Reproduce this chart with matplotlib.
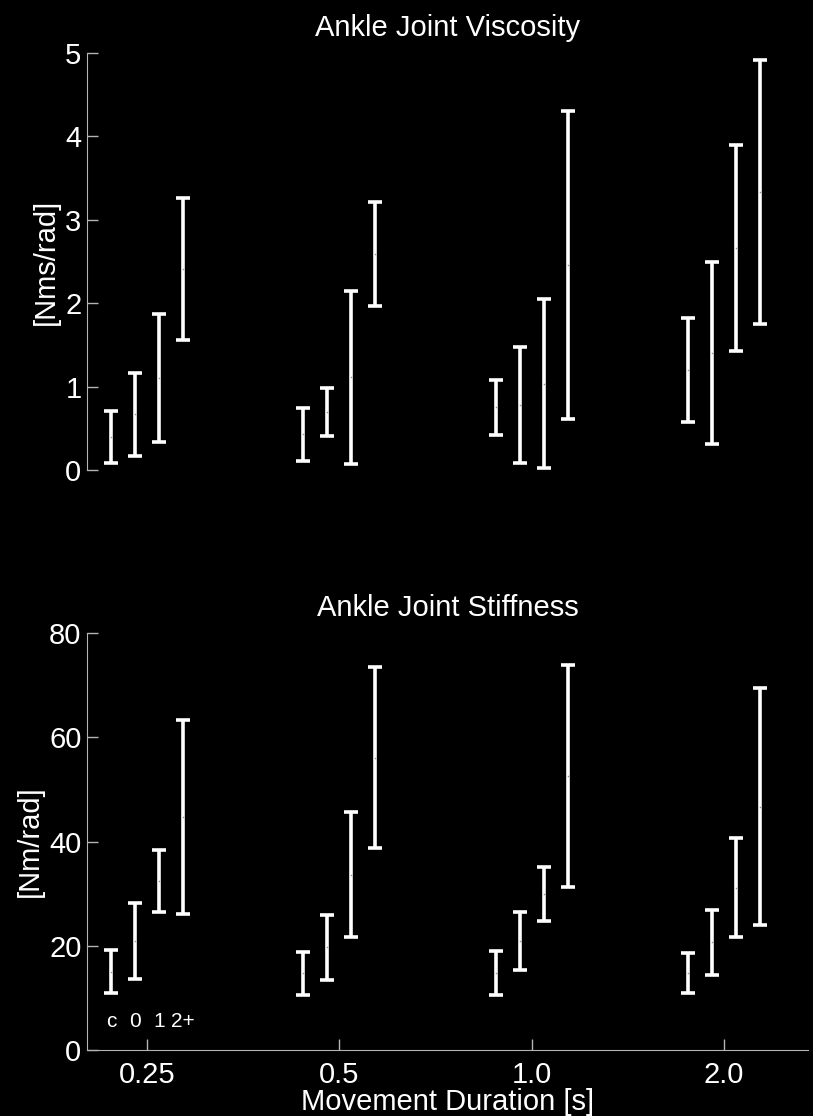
import numpy as np
import matplotlib
matplotlib.use('Agg')
import matplotlib.pyplot as plt

plt.rcParams['font.family'] = ['Liberation Sans', 'DejaVu Sans']

durations = ['0.25', '0.5', '1.0', '2.0']
groups = ['c', '0', '1', '2+']

# viscosity ranges [Nms/rad], rows = duration, cols = group (c, 0, 1, 2+)
visc_low = [[0.08, 0.17, 0.34, 1.56],
            [0.11, 0.41, 0.07, 1.97],
            [0.42, 0.08, 0.02, 0.61],
            [0.57, 0.31, 1.43, 1.75]]
visc_high = [[0.71, 1.16, 1.87, 3.26],
             [0.74, 0.98, 2.15, 3.21],
             [1.08, 1.48, 2.05, 4.30],
             [1.82, 2.49, 3.89, 4.92]]

# stiffness ranges [Nm/rad]
stiff_low = [[10.9, 13.6, 26.4, 26.1],
             [10.6, 13.4, 21.6, 38.8],
             [10.6, 15.4, 24.8, 31.2],
             [10.9, 14.4, 21.6, 24.0]]
stiff_high = [[19.2, 28.2, 38.4, 63.3],
              [18.9, 26.0, 45.6, 73.4],
              [19.0, 26.5, 35.2, 73.8],
              [18.7, 26.9, 40.6, 69.4]]

offsets = [-0.1875, -0.0625, 0.0625, 0.1875]
axis_col = '#b4b4b4'
fs = 21

fig = plt.figure(figsize=(8.13, 11.16), dpi=100, facecolor='black')
ax1 = fig.add_axes([0.107, 0.5789, 0.887, 0.3737])
ax2 = fig.add_axes([0.107, 0.0591, 0.887, 0.3737])


def draw_panel(ax, low, high, ylim, yticks, title, ylabel):
    ax.set_facecolor('black')
    low = np.array(low)
    high = np.array(high)
    mid = (low + high) / 2
    half = (high - low) / 2
    for i in range(len(durations)):
        x = [i + 1 + o for o in offsets]
        ax.errorbar(x, mid[i], yerr=half[i], fmt='none', ecolor='white',
                    elinewidth=2.6, capsize=4.7, capthick=2.6)
        ax.plot(x, mid[i], ls='none', marker='s', ms=1.0, mfc='#909090',
                mec='none')
    ax.set_xlim(0.688, 4.437)
    ax.set_ylim(*ylim)
    ax.set_yticks(yticks)
    ax.set_xticks(range(1, len(durations) + 1))
    for s in ['top', 'right']:
        ax.spines[s].set_visible(False)
    ax.spines['left'].set_color(axis_col)
    ax.spines['bottom'].set_color(axis_col)
    ax.tick_params(direction='in', length=8, width=1, color=axis_col,
                   labelcolor='white', labelsize=fs)
    ax.tick_params(axis='y', pad=4)
    ax.tick_params(axis='x', pad=8)
    ax.set_title(title, color='white', fontsize=fs, pad=12)
    ax.set_ylabel(ylabel, color='white', fontsize=fs, labelpad=4)


draw_panel(ax1, visc_low, visc_high, (0, 5), range(0, 6),
           'Ankle Joint Viscosity', '[Nms/rad]')
ax1.spines['bottom'].set_visible(False)
ax1.tick_params(axis='x', bottom=False, labelbottom=False)

draw_panel(ax2, stiff_low, stiff_high, (0, 80), range(0, 81, 20),
           'Ankle Joint Stiffness', '[Nm/rad]')
ax2.set_xticklabels(durations)
ax2.set_xlabel('Movement Duration [s]', color='white', fontsize=fs, labelpad=-1)

# group key under the first cluster
for o, g in zip(offsets, groups):
    ax2.text(1 + o, 5.5, g, color='white', fontsize=15, ha='center', va='center')

fig.savefig('out.png', dpi=100, facecolor='black')
